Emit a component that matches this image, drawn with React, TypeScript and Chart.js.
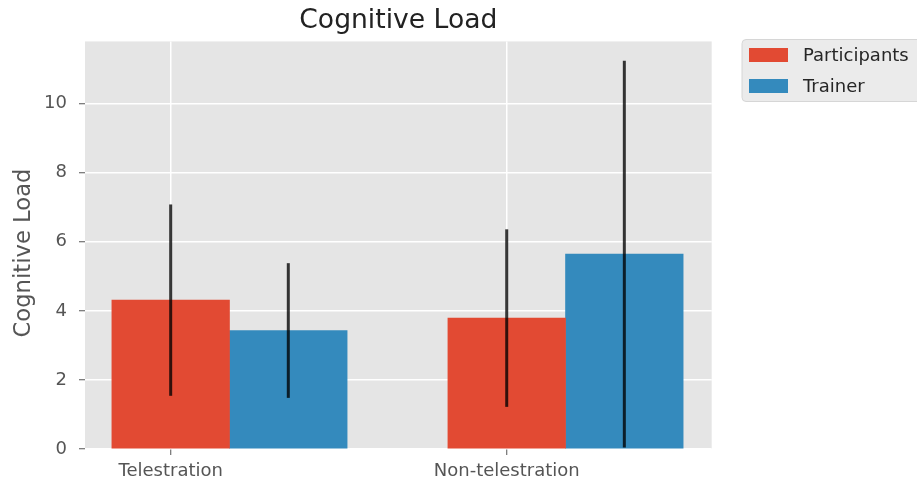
import React, { useEffect, useRef } from "react";
import { Chart, registerables } from "chart.js";

Chart.register(...registerables);

const chartTitle = "Cognitive Load";
const yAxisLabel = "Cognitive Load";
const categories = ["Telestration", "Non-telestration"];
const categoryPositions = [0, 1];
const barOffset = 0.35;
const seriesNames = ["Participants", "Trainer"];
const participants = [4.31, 3.79];
const participantsErr = [2.77, 2.57];
const trainer = [3.43, 5.64];
const trainerErr = [1.95, 5.6];
const yTicks = [0, 2, 4, 6, 8, 10];
const yMax = 11.8;
const xMin = -0.255;
const xMax = 1.61;

const RED = "#E24A33";
const BLUE = "#348ABD";
const FONT = "'DejaVu Sans', sans-serif";

const bgPlugin = {
  id: "plotBg",
  beforeDraw(chart: any) {
    const { ctx, chartArea } = chart;
    ctx.save();
    ctx.fillStyle = "#E5E5E5";
    ctx.fillRect(chartArea.left, chartArea.top, chartArea.right - chartArea.left, chartArea.bottom - chartArea.top);
    ctx.restore();
  },
};

const errPlugin = {
  id: "errBars",
  afterDatasetsDraw(chart: any) {
    const { ctx } = chart;
    const y = chart.scales.y;
    ctx.save();
    ctx.strokeStyle = "rgba(0,0,0,0.78)";
    ctx.lineWidth = 3;
    chart.data.datasets.forEach((ds: any, di: number) => {
      const meta = chart.getDatasetMeta(di);
      ds.data.forEach((pt: any, i: number) => {
        const e = ds.errors[i];
        const x = meta.data[i].x;
        ctx.beginPath();
        ctx.moveTo(x, y.getPixelForValue(pt.y - e));
        ctx.lineTo(x, y.getPixelForValue(pt.y + e));
        ctx.stroke();
      });
    });
    ctx.restore();
  },
};

const yLabelPlugin = {
  id: "yLabel",
  afterDraw(chart: any) {
    const { ctx } = chart;
    ctx.save();
    ctx.translate(29.6, 253);
    ctx.rotate(-Math.PI / 2);
    ctx.font = `22.7px ${FONT}`;
    ctx.fillStyle = "#555555";
    ctx.textAlign = "center";
    ctx.textBaseline = "alphabetic";
    ctx.fillText(yAxisLabel, 0, 0);
    ctx.restore();
  },
};

const legendPlugin = {
  id: "customLegend",
  afterDraw(chart: any) {
    const { ctx } = chart;
    ctx.save();
    const bx = 742, by = 39.5, bw = 190, bh = 62;
    ctx.beginPath();
    (ctx as any).roundRect(bx, by, bw, bh, 4);
    ctx.fillStyle = "#EBEBEB";
    ctx.fill();
    ctx.strokeStyle = "#D6D6D6";
    ctx.lineWidth = 1;
    ctx.stroke();
    ctx.font = `18px ${FONT}`;
    ctx.textBaseline = "middle";
    ctx.textAlign = "left";
    chart.data.datasets.forEach((ds: any, i: number) => {
      const cy = 55 + i * 31;
      ctx.fillStyle = ds.backgroundColor;
      ctx.fillRect(749, cy - 7, 39, 14);
      ctx.fillStyle = "#262626";
      ctx.fillText(ds.label, 803, cy + 1);
    });
    ctx.restore();
  },
};

export default function App() {
  const ref = useRef<HTMLCanvasElement>(null);
  useEffect(() => {
    if (!ref.current) return;
    const chart = new Chart(ref.current, {
      type: "bar",
      data: {
        datasets: [
          {
            label: seriesNames[0],
            data: categoryPositions.map((p, i) => ({ x: p, y: participants[i] })),
            errors: participantsErr,
            backgroundColor: RED,
            grouped: false,
            barPercentage: 1,
            categoryPercentage: 1,
          } as any,
          {
            label: seriesNames[1],
            data: categoryPositions.map((p, i) => ({ x: p + barOffset, y: trainer[i] })),
            errors: trainerErr,
            backgroundColor: BLUE,
            grouped: false,
            barPercentage: 1,
            categoryPercentage: 1,
          } as any,
        ],
      },
      options: {
        animation: false,
        responsive: false,
        layout: { padding: { left: 0, right: 205.3, top: 0, bottom: 0 } },
        plugins: {
          legend: { display: false },
          tooltip: { enabled: false },
          title: {
            display: true,
            text: chartTitle,
            fullSize: false,
            color: "#222222",
            font: { family: FONT, size: 26.6, weight: "normal", lineHeight: 1.2 },
            padding: { top: 5, bottom: 4.5 },
          },
        },
        scales: {
          x: {
            type: "linear",
            min: xMin,
            max: xMax,
            offset: false,
            afterBuildTicks: (s: any) => {
              s.ticks = categoryPositions.map((v) => ({ value: v }));
            },
            afterFit: (s: any) => {
              s.height = 36;
            },
            ticks: {
              color: "#555555",
              font: { family: FONT, size: 18 },
              padding: 6,
              maxRotation: 0,
              autoSkip: false,
              callback: (v: any) => {
                const idx = categoryPositions.indexOf(Number(v));
                return idx >= 0 ? categories[idx] : "";
              },
            },
            grid: {
              offset: false,
              color: "#FFFFFF",
              lineWidth: 1.5,
              tickColor: "#555555",
              tickLength: 6,
              tickWidth: 1,
            },
            border: { display: false },
          },
          y: {
            type: "linear",
            min: 0,
            max: yMax,
            afterBuildTicks: (s: any) => {
              s.ticks = yTicks.map((v) => ({ value: v }));
            },
            afterFit: (s: any) => {
              s.width = 85;
            },
            ticks: {
              color: "#555555",
              font: { family: FONT, size: 18 },
              padding: 12,
            },
            grid: {
              color: "#FFFFFF",
              lineWidth: 1.5,
              tickColor: "#555555",
              tickLength: 6,
              tickWidth: 1,
            },
            border: { display: false },
          },
        },
      } as any,
      plugins: [bgPlugin, errPlugin, yLabelPlugin, legendPlugin],
    });
    return () => chart.destroy();
  }, []);
  return (
    <canvas
      ref={ref}
      width={917}
      height={485}
      style={{ position: "absolute", left: 0, top: 0, display: "block" }}
    />
  );
}
